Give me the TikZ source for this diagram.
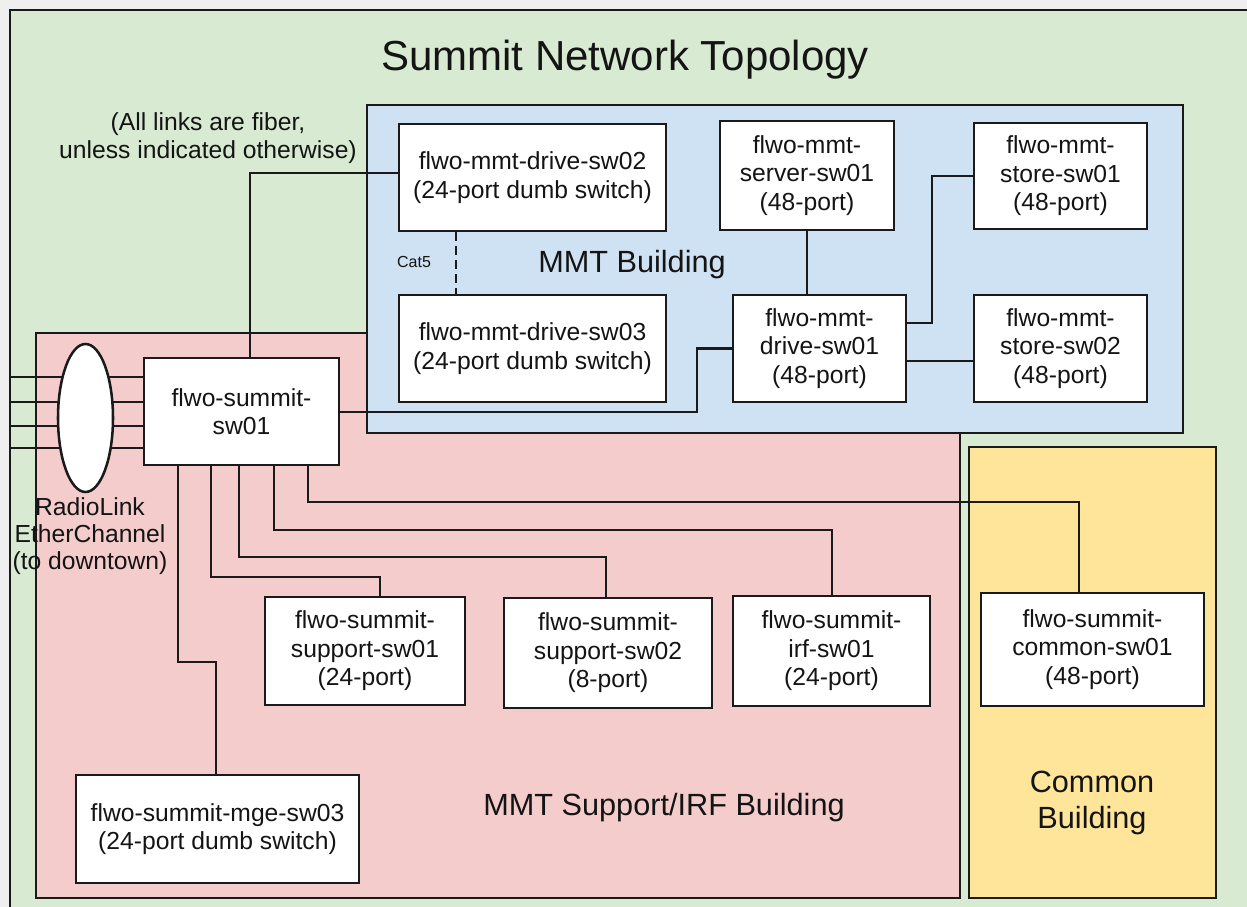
\documentclass[tikz,border=0pt]{standalone}
\usepackage{fontspec}
\setmainfont{Liberation Sans}
\usetikzlibrary{shapes.geometric}
\definecolor{bggreen}{HTML}{D9EAD3}
\definecolor{bgblue}{HTML}{CFE2F3}
\definecolor{bgpink}{HTML}{F4CCCC}
\definecolor{bgyellow}{HTML}{FFE599}
\definecolor{marginc}{HTML}{EFEFEF}
\definecolor{edgec}{HTML}{1A1A1A}
\definecolor{textc}{HTML}{141414}
\begin{document}
\begin{tikzpicture}[x=0.75pt,y=-0.75pt,
  area/.style={draw=edgec, line width=2pt},
  sw/.style={draw=edgec, fill=white, line width=1.9pt, rectangle, inner sep=0pt, align=center, text=textc, font=\fontsize{18.5}{21.3}\selectfont},
  link/.style={draw=edgec, line width=1.9pt},
  lbl/.style={align=center, text=textc, font=\fontsize{18.5}{20.5}\selectfont},
  bldg/.style={align=center, text=textc, font=\fontsize{23}{26.3}\selectfont}
]
\clip (0,0) rectangle (1247,907);
\fill[marginc] (0,0) rectangle (1247,907);
% areas
\filldraw[fill=bggreen, area] (10,10) rectangle (1262,922);
\filldraw[fill=bgpink, area] (36,333) rectangle (960,898);
\filldraw[fill=bgblue, area] (367,105) rectangle (1183,433);
\filldraw[fill=bgyellow, area] (969,447) rectangle (1216,898);

% labels
\node[text=textc, font=\fontsize{31.5}{36}\selectfont] (title) at (625,60) {Summit Network Topology};
\node[lbl] (note) at (208,138) {(All links are fiber,\\unless indicated otherwise)};
\node[bldg] (mmtlbl) at (632,265) {MMT Building};
\node[bldg] (suplbl) at (664,808) {MMT Support/IRF Building};
\node[bldg] (comlbl) at (1092,803) {Common\\Building};
\node[lbl] (radiolbl) at (90,536) {RadioLink\\EtherChannel\\(to downtown)};

% switches
\node[sw, minimum width=200.25pt, minimum height=80.25pt] (sw02) at (532.5,177.5) {flwo-mmt-drive-sw02\\(24-port dumb switch)};
\node[sw, minimum width=200.25pt, minimum height=80.25pt] (sw03) at (532.5,348.5) {flwo-mmt-drive-sw03\\(24-port dumb switch)};
\node[sw, minimum width=130.5pt, minimum height=81.75pt] (server) at (807,175.5) {flwo-mmt-\\server-sw01\\(48-port)};
\node[sw, minimum width=129.75pt, minimum height=80.25pt] (drive01) at (819.5,348.5) {flwo-mmt-\\drive-sw01\\(48-port)};
\node[sw, minimum width=129.75pt, minimum height=79.5pt] (store01) at (1060.5,176) {flwo-mmt-\\store-sw01\\(48-port)};
\node[sw, minimum width=129.75pt, minimum height=80.25pt] (store02) at (1060.5,348.5) {flwo-mmt-\\store-sw02\\(48-port)};
\node[sw, minimum width=146.25pt, minimum height=80.25pt] (summit01) at (241.5,411.5) {flwo-summit-\\sw01};
\node[sw, minimum width=150pt, minimum height=81pt] (sup01) at (365,651) {flwo-summit-\\support-sw01\\(24-port)};
\node[sw, minimum width=156pt, minimum height=82.5pt] (sup02) at (608,653) {flwo-summit-\\support-sw02\\(8-port)};
\node[sw, minimum width=147.75pt, minimum height=82.5pt] (irf) at (831.5,651) {flwo-summit-\\irf-sw01\\(24-port)};
\node[sw, minimum width=167.25pt, minimum height=84.75pt] (common) at (1092.5,649.5) {flwo-summit-\\common-sw01\\(48-port)};
\node[sw, minimum width=212.25pt, minimum height=81pt] (mge) at (217.5,829) {flwo-summit-mge-sw03\\(24-port dumb switch)};

% links
\draw[link] (summit01.north -| 250,0) |- (sw02.west |- 0,173);
\draw[link] (summit01.east |- 0,412) -- (697,412) |- (drive01.west);
\draw[link, dash pattern=on 6.5pt off 4pt] (sw02.south -| 456,0) -- (sw03.north -| 456,0);
\node[text=textc, font=\fontsize{12}{14}\selectfont] (cat5) at (414,262) {Cat5};
\draw[link] (server.south) -- (server.south |- drive01.north);
\draw[link] (drive01.east |- 0,323) -- (932,323) |- (store01.west);
\draw[link] (drive01.east |- 0,361) -- (store02.west |- 0,361);

\draw[link] (summit01.south -| 178,0) |- (216,662) -- (mge.north -| 216,0);
\draw[link] (summit01.south -| 211,0) |- (380,577) -- (sup01.north -| 380,0);
\draw[link] (summit01.south -| 239,0) |- (606,557) -- (sup02.north -| 606,0);
\draw[link] (summit01.south -| 274,0) |- (832,530) -- (irf.north -| 832,0);
\draw[link] (summit01.south -| 308,0) |- (1079,502) -- (common.north -| 1079,0);

% radio link ether channel
\coordinate (e1) at (10,377);
\coordinate (e2) at (10,402);
\coordinate (e3) at (10,426);
\coordinate (e4) at (10,448);
\draw[link] (e1) -- (summit01.west |- e1);
\draw[link] (e2) -- (summit01.west |- e2);
\draw[link] (e3) -- (summit01.west |- e3);
\draw[link] (e4) -- (summit01.west |- e4);
\node[ellipse, draw=edgec, fill=white, line width=1.9pt, inner sep=0pt, minimum width=41.25pt, minimum height=111pt] (radio) at (85.5,418) {};
\end{tikzpicture}
\end{document}
